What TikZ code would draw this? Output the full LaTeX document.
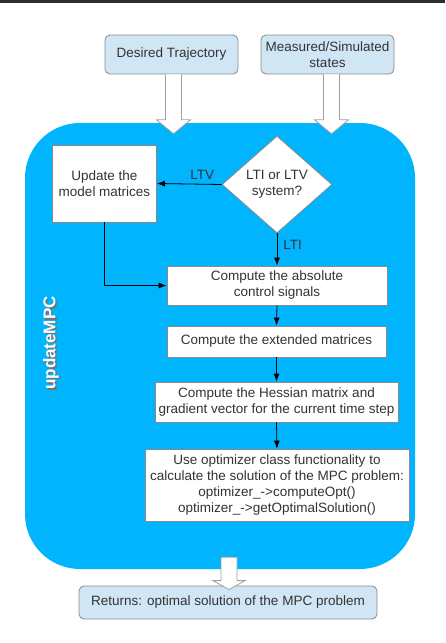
\documentclass[tikz,border=0pt]{standalone}
\usepackage{fontspec}
\setmainfont{Liberation Sans}
\usetikzlibrary{shapes.geometric,calc,arrows.meta}
\definecolor{cyanbg}{HTML}{00B4FE}
\definecolor{lightbox}{HTML}{D0E6F5}
\definecolor{boxborder}{HTML}{8A8A8A}
\definecolor{txt}{HTML}{333333}
\definecolor{darkbar}{HTML}{2E2E2E}
\tikzset{
  every node/.style={font=\fontsize{13.5}{16}\selectfont, text=txt, align=center, inner sep=0pt},
  iobox/.style={draw=boxborder, fill=lightbox, rounded corners=5pt, line width=0.8pt},
  procbox/.style={draw=boxborder, fill=white, line width=0.8pt},
  decbox/.style={draw=boxborder, fill=white, line width=0.8pt, shape=diamond, aspect=1.13},
  hollow/.style={draw=boxborder!80, fill=white, line width=0.8pt},
  flow/.style={draw=black, line width=0.8pt, -{Latex[length=8pt,width=6pt]}},
  lbl/.style={font=\fontsize{13.5}{16}\selectfont, text=txt}
}
\begin{document}
\begin{tikzpicture}[x=1pt,y=-1pt]
\useasboundingbox (0,0) rectangle (445,643);
\fill[white] (0,0) rectangle (445,643);
\fill[darkbar] (0,0) rectangle (445,3);
% main region
\node[fill=cyanbg, rounded corners=55pt, minimum width=390pt, minimum height=446pt] (mpc) at (220,346) {};
% inputs
\node[iobox, minimum width=133pt, minimum height=39pt] (dt) at (171.5,54.5) {Desired Trajectory};
\node[iobox, minimum width=133pt, minimum height=39pt] (ms) at (327.5,54.5) {Measured/Simulated\\states};
\node[iobox, minimum width=298pt, minimum height=33pt] (ret) at (228,602.5) {Returns: optimal solution of the MPC problem};
% hollow arrows
\coordinate (h1) at ($(dt.south)+(2,0)$);
\draw[hollow] ($(h1)+(-8,0)$) -- ($(h1 |- mpc.north)+(-8,-3)$) -- ++(-9,0) -- ($(h1 |- mpc.north)+(0,11)$) -- ($(h1 |- mpc.north)+(17,-3)$) -- ++(-9,0) -- ($(h1)+(8,0)$);
\coordinate (h2) at ($(ms.south)+(4,0)$);
\draw[hollow] ($(h2)+(-8,0)$) -- ($(h2 |- mpc.north)+(-8,-3)$) -- ++(-9,0) -- ($(h2 |- mpc.north)+(0,11)$) -- ($(h2 |- mpc.north)+(17,-3)$) -- ++(-9,0) -- ($(h2)+(8,0)$);
\coordinate (h3) at ($(ret.north)+(1,0)$);
\draw[hollow] ($(h3 |- mpc.south)+(-8,-12)$) -- ($(h3)+(-8,-5)$) -- ++(-8,0) -- ($(h3)+(0,4)$) -- ($(h3)+(16,-5)$) -- ++(-8,0) -- ($(h3 |- mpc.south)+(8,-12)$) -- cycle;
% label
\node[rotate=90, font=\fontsize{17}{20}\bfseries\selectfont, text=black!55] at (52.5,344.5) {updateMPC};
\node[rotate=90, font=\fontsize{17}{20}\bfseries\selectfont, text=white] (lab) at (51,343) {updateMPC};
% process boxes
\node[procbox, minimum width=104pt, minimum height=77pt] (upd) at (104.5,183.5) {Update the\\model matrices};
\node[decbox, minimum width=110pt, minimum height=97pt] (dec) at (277,184.5) {LTI or LTV\\system?};
\node[procbox, minimum width=220pt, minimum height=39pt] (abs) at (277,285.5) {Compute the absolute\\control signals};
\node[procbox, minimum width=219pt, minimum height=31pt] (ext) at (276.5,341.5) {Compute the extended matrices};
\node[procbox, minimum width=243pt, minimum height=40pt] (hes) at (276.5,402) {Compute the Hessian matrix and\\gradient vector for the current time step};
\node[procbox, minimum width=264pt, minimum height=72pt] (opt) at (277,485) {Use optimizer class functionality to\\calculate the solution of the MPC problem:\\optimizer\_->computeOpt()\\optimizer\_->getOptimalSolution()};
% connectors
\draw[flow] (dec.west) -- node[lbl, above=4pt, pos=0.3] {LTV} (upd.east);
\draw[flow] (dec.south) -- node[lbl, right=6pt, pos=0.35] {LTI} (abs.north);
\draw[flow] (upd.south) |- (abs.west);
\draw[flow] (abs.south) -- (ext.north);
\draw[flow] (ext.south) -- (hes.north);
\draw[flow] (hes.south) -- (opt.north);
\end{tikzpicture}
\end{document}
